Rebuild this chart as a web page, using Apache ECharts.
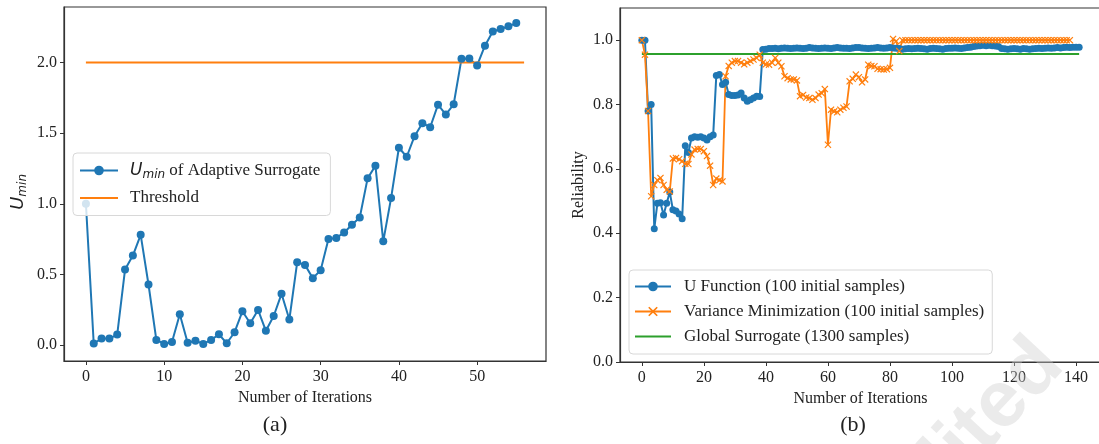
<!DOCTYPE html>
<html>
<head>
<meta charset="utf-8">
<script src="https://cdn.jsdelivr.net/npm/echarts@6/dist/echarts.min.js"></script>
<style>
  html, body { margin: 0; padding: 0; background: #fff; }
  #chart { width: 1099px; height: 444px; }
</style>
</head>
<body>
<div id="chart"></div>
<script>
// (a) U_min of the adaptive surrogate per iteration
const uminIter = [0,1,2,3,4,5,6,7,8,9,10,11,12,13,14,15,16,17,18,19,20,21,22,23,24,25,26,27,28,29,30,31,32,33,34,35,36,37,38,39,40,41,42,43,44,45,46,47,48,49,50,51,52,53,54,55];
const uminValues = [1.0,0.01,0.045,0.045,0.073,0.534,0.633,0.78,0.428,0.035,0.007,0.02,0.217,0.015,0.03,0.007,0.035,0.075,0.012,0.09,
  0.238,0.153,0.248,0.1,0.205,0.362,0.18,0.585,0.567,0.473,0.529,0.75,0.757,0.797,0.851,0.903,1.18,1.27,0.734,1.04,
  1.397,1.333,1.479,1.571,1.542,1.702,1.632,1.705,2.027,2.03,1.98,2.12,2.22,2.238,2.257,2.28];
const thresholdIter = [0, 56];
const thresholdValue = 2.0;
const uminTicksX = [0,10,20,30,40,50];
const uminTicksY = [0,0.5,1.0,1.5,2.0];

// (b) reliability estimates per iteration
const uFunction = [1.0,1.0,0.78,0.80,0.414,0.493,0.495,0.457,0.493,0.528,0.473,0.469,0.46,0.445,0.672,0.651,0.696,0.70,0.698,0.70,
  0.696,0.69,0.70,0.705,0.89,0.893,0.862,0.869,0.831,0.828,0.828,0.83,0.836,0.82,0.81,0.815,0.82,0.826,0.825,0.971,
  0.972,0.974,0.974,0.975,0.973,0.975,0.976,0.975,0.974,0.975,
  0.976,0.975,0.974,0.975,0.977,0.976,0.975,0.974,0.975,0.976,
  0.975,0.974,0.976,0.977,0.976,0.975,0.975,0.974,0.976,0.977,
  0.977,0.976,0.975,0.974,0.975,0.976,0.977,0.976,0.975,0.976,
  0.977,0.976,0.975,0.974,0.972,0.973,0.974,0.973,0.974,0.975,
  0.974,0.973,0.972,0.974,0.975,0.974,0.973,0.972,0.974,0.975,
  0.975,0.976,0.975,0.974,0.976,0.977,0.978,0.98,0.982,0.983,
  0.984,0.983,0.984,0.983,0.982,0.98,0.974,0.973,0.972,0.973,
  0.974,0.973,0.972,0.974,0.973,0.972,0.973,0.974,0.975,0.974,
  0.975,0.976,0.975,0.976,0.977,0.976,0.977,0.978,0.977,0.978,0.978,0.978];
const varianceMin = [1.0,0.955,0.78,0.515,0.55,0.565,0.572,0.55,0.535,0.53,
  0.632,0.634,0.63,0.624,0.616,0.615,0.645,0.66,0.662,0.662,
  0.655,0.64,0.61,0.55,0.57,0.565,0.561,0.888,0.92,0.93,
  0.935,0.935,0.93,0.925,0.93,0.935,0.94,0.945,0.955,0.93,
  0.925,0.924,0.93,0.945,0.93,0.919,0.888,0.882,0.878,0.878,
  0.875,0.826,0.83,0.822,0.82,0.815,0.82,0.831,0.835,0.848,
  0.675,0.784,0.779,0.776,0.784,0.79,0.794,0.872,0.88,0.893,
  0.885,0.869,0.878,0.924,0.92,0.919,0.911,0.91,0.909,0.91,
  0.914,1.004,0.997,0.966,1.0,1.0,1.0,1.0,1.0,1.0,
  1.0,1.0,1.0,1.0,1.0,1.0,1.0,1.0,1.0,1.0,
  1.0,1.0,1.0,1.0,1.0,1.0,1.0,1.0,1.0,1.0,
  1.0,1.0,1.0,1.0,1.0,1.0,1.0,1.0,1.0,1.0,
  1.0,1.0,1.0,1.0,1.0,1.0,1.0,1.0,1.0,1.0,
  1.0,1.0,1.0,1.0,1.0,1.0,1.0,1.0,1.0];
const globalIter = [0, 141];
const globalValue = 0.957;
const relTicksX = [0,20,40,60,80,100,120,140];
const relTicksY = [0,0.2,0.4,0.6,0.8,1.0];

const BLUE = '#1f77b4', ORANGE = '#ff7f0e', GREEN = '#2ca02c';
const SERIF = '"Liberation Serif", "Times New Roman", serif';
const AX = '#333';
const CROSS = 'path://M0,1.2L1.2,0L5,3.8L8.8,0L10,1.2L6.2,5L10,8.8L8.8,10L5,6.2L1.2,10L0,8.8L3.8,5Z';
const PLAIN_LINE = 'path://M0,0H100V5H0Z';

const pairs = (vals) => vals.map((v, i) => [i, v]);

const nameA = 'Umin of Adaptive Surrogate';
const nameU = 'U Function (100 initial samples)';
const nameV = 'Variance Minimization (100 initial samples)';
const nameG = 'Global Surrogate (1300 samples)';

function xAxisCfg(gridIndex, min, max, ticks) {
  return {
    type: 'value', gridIndex, min, max,
    name: 'Number of Iterations', nameLocation: 'middle', nameGap: 27,
    nameTextStyle: { fontFamily: SERIF, fontSize: 16, color: '#222' },
    axisLine: { show: true, onZero: false, lineStyle: { color: AX, width: 1.2 } },
    axisTick: { show: true, length: 4, customValues: ticks, lineStyle: { color: AX } },
    axisLabel: { customValues: ticks, margin: 8, fontFamily: SERIF, fontSize: 16, color: '#222' },
    splitLine: { show: false }
  };
}
function yAxisCfg(gridIndex, min, max, ticks, name) {
  return {
    type: 'value', gridIndex, min, max,
    name: name, nameLocation: 'middle', nameGap: 33, nameRotate: 90,
    nameTextStyle: { fontFamily: SERIF, fontSize: 16, color: '#222' },
    axisLine: { show: true, onZero: false, lineStyle: { color: AX, width: 1.2 } },
    axisTick: { show: true, length: 4, customValues: ticks, lineStyle: { color: AX } },
    axisLabel: { customValues: ticks, margin: 7, fontFamily: SERIF, fontSize: 16, color: '#222',
      formatter: (v) => v.toFixed(1) },
    splitLine: { show: false }
  };
}

const legendBox = {
  orient: 'vertical', itemHeight: 12,
  backgroundColor: 'rgba(255,255,255,0.8)', borderColor: '#d8d8d8', borderWidth: 1, borderRadius: 4
};

const chart = echarts.init(document.getElementById('chart'), null, { renderer: 'canvas' });
chart.setOption({
  animation: false,
  backgroundColor: '#fff',
  grid: [
    { left: 64, top: 7, width: 482, height: 354, show: true, borderColor: AX, borderWidth: 1.2,
      backgroundColor: 'transparent', outerBoundsMode: 'none' },
    { left: 620, top: 8, width: 481, height: 354, show: true, borderColor: AX, borderWidth: 1.2,
      backgroundColor: 'transparent', outerBoundsMode: 'none' }
  ],
  xAxis: [
    xAxisCfg(0, -2.8, 58.8, uminTicksX),
    xAxisCfg(1, -7.05, 148.05, relTicksX)
  ],
  yAxis: [
    yAxisCfg(0, -0.114, 2.394, uminTicksY, ''),
    yAxisCfg(1, 0, 1.1, relTicksY, 'Reliability')
  ],
  legend: [
    Object.assign({}, legendBox, {
      data: [nameA, { name: 'Threshold', icon: PLAIN_LINE }], left: 73, top: 153,
      itemWidth: 38, itemGap: 9, padding: [9, 10, 9, 6],
      textStyle: { fontFamily: SERIF, fontSize: 17, color: '#222', padding: [0, 0, 0, 7],
        rich: {
          u: { fontFamily: '"DejaVu Sans", sans-serif', fontStyle: 'italic', fontSize: 17, color: '#222' },
          s: { fontFamily: '"DejaVu Sans", sans-serif', fontStyle: 'italic', fontSize: 12, color: '#222', verticalAlign: 'bottom', padding: [8, 0, 0, 0] },
          t: { fontFamily: SERIF, fontSize: 17, color: '#222' }
        } },
      formatter: (n) => n === nameA ? '{u|U}{s|min}{t| of Adaptive Surrogate}' : n
    }),
    Object.assign({}, legendBox, {
      data: [nameU, nameV, { name: nameG, icon: PLAIN_LINE }], left: 629, top: 270,
      itemWidth: 36, itemGap: 8, padding: [8, 8, 9, 5],
      textStyle: { fontFamily: SERIF, fontSize: 17, color: '#222', padding: [0, 0, 0, 8] }
    })
  ],
  series: [
    { name: nameA, type: 'line', xAxisIndex: 0, yAxisIndex: 0,
      data: uminValues.map((v, i) => [uminIter[i], v]),
      symbol: 'circle', symbolSize: 8, showSymbol: true,
      lineStyle: { color: BLUE, width: 2 }, itemStyle: { color: BLUE } },
    { name: 'Threshold', type: 'line', xAxisIndex: 0, yAxisIndex: 0,
      data: thresholdIter.map((x) => [x, thresholdValue]),
      symbol: 'none', lineStyle: { color: ORANGE, width: 2 }, itemStyle: { color: ORANGE } },
    { name: nameU, type: 'line', xAxisIndex: 1, yAxisIndex: 1,
      data: pairs(uFunction), symbol: 'circle', symbolSize: 7,
      lineStyle: { color: BLUE, width: 2 }, itemStyle: { color: BLUE } },
    { name: nameV, type: 'line', xAxisIndex: 1, yAxisIndex: 1,
      data: pairs(varianceMin), symbol: CROSS, symbolSize: 7,
      lineStyle: { color: ORANGE, width: 1.8 }, itemStyle: { color: ORANGE } },
    { name: nameG, type: 'line', xAxisIndex: 1, yAxisIndex: 1,
      data: globalIter.map((x) => [x, globalValue]), symbol: 'none',
      lineStyle: { color: GREEN, width: 2 }, itemStyle: { color: GREEN } }
  ],
  graphic: [
    { type: 'text', left: 9, top: 174, rotation: Math.PI / 2, z: 10,
      style: { text: '{u|U}{s|min}', x: 0, y: 0,
        rich: {
          u: { fontFamily: '"DejaVu Sans", sans-serif', fontStyle: 'italic', fontSize: 18, fill: '#222' },
          s: { fontFamily: '"DejaVu Sans", sans-serif', fontStyle: 'italic', fontSize: 12, fill: '#222', verticalAlign: 'bottom', padding: [9, 0, 0, 0] }
        } } },
    { type: 'text', x: 275, y: 425, z: 10,
      style: { text: '(a)', fontFamily: SERIF, fontSize: 22, fill: '#222', align: 'center', verticalAlign: 'middle' } },
    { type: 'text', x: 853, y: 425, z: 10,
      style: { text: '(b)', fontFamily: SERIF, fontSize: 22, fill: '#222', align: 'center', verticalAlign: 'middle' } },
    { type: 'text', x: 1050, y: 352, rotation: 47 * Math.PI / 180, z: 20,
      style: { text: 'Unedited', fontFamily: '"Liberation Sans", Arial, sans-serif', fontWeight: 'bold', fontSize: 80,
        fill: 'rgba(205,205,205,0.4)', align: 'right', verticalAlign: 'middle' } }
  ]
});
</script>
</body>
</html>
